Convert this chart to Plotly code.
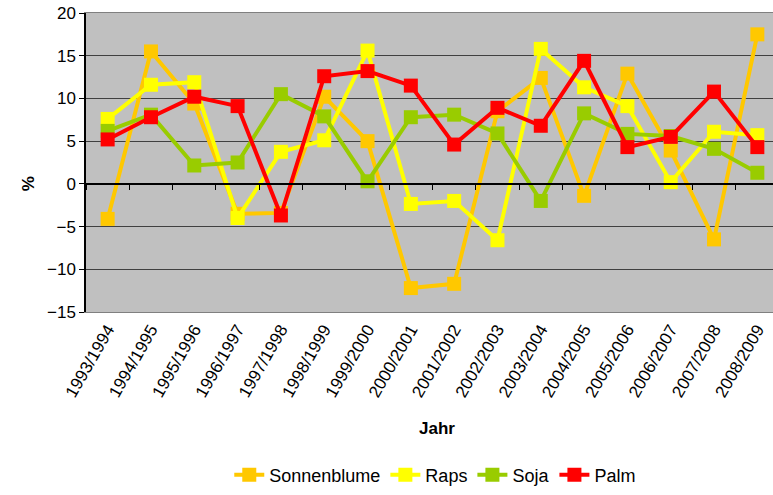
import plotly.graph_objects as go

jahre = ["1993/1994", "1994/1995", "1995/1996", "1996/1997", "1997/1998", "1998/1999",
         "1999/2000", "2000/2001", "2001/2002", "2002/2003", "2003/2004", "2004/2005",
         "2005/2006", "2006/2007", "2007/2008", "2008/2009"]

sonnenblume = [-4.1, 15.5, 9.4, -3.5, -3.4, 10.2, 5.0, -12.2, -11.7, 8.5, 12.4, -1.4, 12.9, 3.9, -6.5, 17.5]
raps = [7.6, 11.6, 11.9, -4.0, 3.75, 5.1, 15.6, -2.35, -2.0, -6.6, 15.8, 11.3, 9.1, 0.2, 6.1, 5.7]
soja = [6.2, 8.1, 2.15, 2.5, 10.5, 7.9, 0.3, 7.8, 8.1, 5.9, -2.0, 8.25, 5.85, 5.6, 4.1, 1.3]
palm = [5.2, 7.8, 10.2, 9.1, -3.7, 12.6, 13.2, 11.5, 4.6, 8.9, 6.8, 14.4, 4.3, 5.5, 10.8, 4.3]

serien = [
    ("Sonnenblume", sonnenblume, "#FFC800"),
    ("Raps", raps, "#FFFF00"),
    ("Soja", soja, "#99CC00"),
    ("Palm", palm, "#FF0000"),
]

font = "Liberation Sans, Arial, sans-serif"

fig = go.Figure()
for name, vals, col in serien:
    fig.add_trace(go.Scatter(
        x=jahre, y=vals, name=name, mode="lines+markers",
        line=dict(color=col, width=4),
        marker=dict(symbol="square", size=14, color=col),
    ))

# invisible trace to carry the axis through zero
fig.add_trace(go.Scatter(x=jahre, y=[None] * len(jahre), xaxis="x2", showlegend=False,
                         hoverinfo="skip"))

# the plot area runs a little past the right edge of the window, as in the original
fig.update_layout(
    template="none",
    width=781, height=495,
    margin=dict(l=86, r=2, t=13, b=176),
    paper_bgcolor="white",
    plot_bgcolor="#C0C0C0",
    font=dict(family=font, size=17, color="black"),
    showlegend=True,
    legend=dict(orientation="h", x=0.504, xanchor="center", y=-0.545, yanchor="middle",
                font=dict(size=18), tracegroupgap=0),
    xaxis=dict(
        automargin=False, showgrid=False, zeroline=False, tickangle=-60, ticks="",
        showline=True, linecolor="#808080", linewidth=1, mirror=True,
        range=[-0.5, 15.5], tickfont=dict(size=17), ticklabeloverflow="allow",
    ),
    xaxis2=dict(
        overlaying="x", anchor="free", position=15 / 35, matches="x",
        showticklabels=False, ticks="outside", ticklen=5, tickcolor="black",
        tickson="boundaries", showline=True, linecolor="black", linewidth=1.5,
        showgrid=False, zeroline=False, automargin=False,
    ),
    yaxis=dict(
        automargin=False, range=[-15, 20], dtick=5, showgrid=True, gridcolor="#404040",
        gridwidth=1, zeroline=False, ticks="outside", ticklen=5, tickcolor="black",
        showline=True, linecolor="black", linewidth=1.5, tickfont=dict(size=17),
        ticklabeloverflow="allow",
    ),
    annotations=[
        dict(text="<b>Jahr</b>", x=0.507, y=-0.39, xref="paper", yref="paper",
             yanchor="middle", showarrow=False, font=dict(size=17)),
        dict(text="<b>%</b>", x=-0.099, y=0.43, xref="paper", yref="paper",
             yanchor="middle", showarrow=False, textangle=-90, font=dict(size=17)),
    ],
)

fig.write_html("out.html", config={"displayModeBar": False},
               post_script="document.body.style.margin='0';")
